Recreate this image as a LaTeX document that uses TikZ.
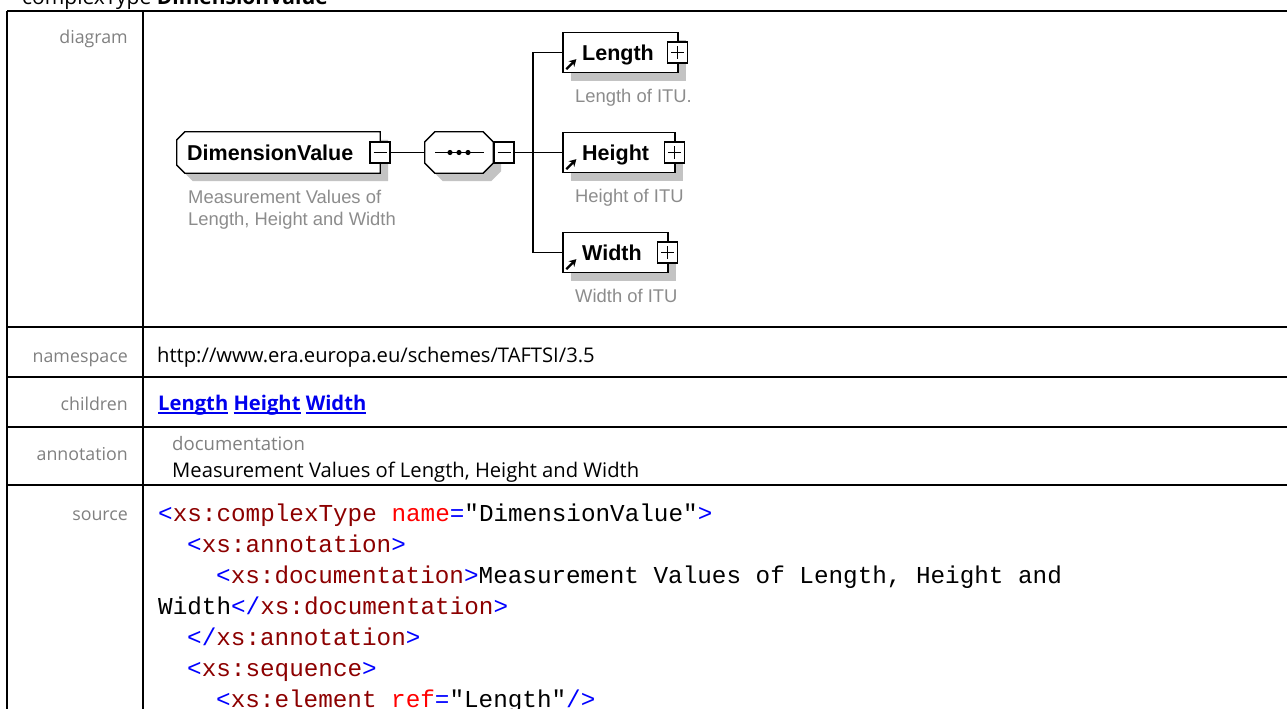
\documentclass[tikz,border=0pt]{standalone}
\usepackage{fontspec}
\setmainfont{Open Sans}
\setmonofont{Liberation Mono}
\newfontfamily\dgfont{Liberation Sans}
\usetikzlibrary{shadows,arrows.meta}
\definecolor{lblgray}{RGB}{128,128,128}
\definecolor{descgray}{RGB}{140,140,140}
\definecolor{xblue}{RGB}{0,0,255}
\definecolor{xelem}{RGB}{140,0,0}
\definecolor{xattr}{RGB}{255,0,0}
\definecolor{shgray}{RGB}{195,195,195}
\definecolor{linkblue}{RGB}{0,0,238}
\newcommand\XBl[1]{\textcolor{xblue}{#1}}
\newcommand\XEl[1]{\textcolor{xelem}{#1}}
\newcommand\XAt[1]{\textcolor{xattr}{#1}}
\newcommand\lnkword[1]{\setbox0\hbox{#1}\rlap{\rule[-3.5pt]{\wd0}{1.4pt}}\box0\relax}
% chamfered outline round a node: #1 node, #2 chamfer left, #3 chamfer right
\newcommand\chamfpath[3]{([xshift=#2]#1.north west) -- ([xshift=-#3]#1.north east) -- ([yshift=-#3]#1.north east)
  -- ([yshift=#3]#1.south east) -- ([xshift=-#3]#1.south east) -- ([xshift=#2]#1.south west)
  -- ([yshift=#2]#1.south west) -- ([yshift=-#2]#1.north west) -- cycle}
\tikzset{
  tline/.style={line width=1.3pt, black},
  rowlbl/.style={anchor=base east, inner sep=0pt, text=lblgray, font=\fontsize{17.8}{20}\selectfont},
  celltxt/.style={anchor=base west, inner sep=0pt, font=\fontsize{20.2}{24}\selectfont},
  code/.style={anchor=base west, inner sep=0pt, font=\ttfamily\fontsize{24.3}{28}\selectfont},
  conn/.style={line width=1.3pt, black},
  shapeline/.style={draw, line width=1.3pt, fill=white},
  shadowfill/.style={fill=shgray, draw=none, transform canvas={shift={(8pt,-8pt)}}},
  frame/.style={rectangle, draw=none, inner sep=0pt},
  sh/.style={drop shadow={shadow xshift=8pt, shadow yshift=-8pt, fill=shgray, opacity=1}},
  elbox/.style={rectangle, draw, line width=1.3pt, fill=white, inner sep=0pt, minimum height=40pt, sh},
  ctrl/.style={rectangle, draw, line width=1.3pt, fill=white, inner sep=0pt, minimum width=20pt, minimum height=21pt},
  minusbox/.style={ctrl, path picture={\draw[line width=1.3pt] ([xshift=-6.5pt]path picture bounding box.center) -- ([xshift=6.5pt]path picture bounding box.center);}},
  plusbox/.style={ctrl, path picture={\draw[line width=1.3pt] ([xshift=-6.5pt]path picture bounding box.center) -- ([xshift=6.5pt]path picture bounding box.center)
     ([yshift=-6.5pt]path picture bounding box.center) -- ([yshift=6.5pt]path picture bounding box.center);}},
  ename/.style={anchor=base west, inner sep=0pt, font=\dgfont\bfseries\fontsize{21.5}{24}\selectfont},
  edesc/.style={anchor=base west, inner sep=0pt, text=descgray, align=left, font=\dgfont\fontsize{18.4}{22}\selectfont},
  refarrow/.style={line width=2.2pt, -{Stealth[length=7pt,width=8pt]}},
}
\begin{document}
\begin{tikzpicture}[x=1pt,y=-1pt]
\useasboundingbox (0,0) rectangle (1287,709);
\clip (0,0) rectangle (1287,709);
% title
\node[anchor=base west, inner sep=0pt, font=\fontsize{21}{24}\selectfont] (title) at (22,5) {complexType \textbf{DimensionValue}};
% table grid
\draw[tline] (7,11) -- (1287,11);
\draw[tline] (7,327) -- (1287,327);
\draw[tline] (7,377) -- (1287,377);
\draw[tline] (7,427) -- (1287,427);
\draw[tline] (7,485) -- (1287,485);
\draw[tline] (7,11) -- (7,709);
\draw[tline] (143,11) -- (143,709);
% row labels
\node[rowlbl] (l1) at (128,44) {diagram};
\node[rowlbl] (l2) at (128,362) {namespace};
\node[rowlbl] (l3) at (128,410) {children};
\node[rowlbl] (l4) at (128,460) {annotation};
\node[rowlbl] (l5) at (128,520) {source};
% cells
\node[celltxt] (ns) at (157,362) {http://www.era.europa.eu/schemes/TAFTSI/3.5};
\node[celltxt, text=linkblue, font=\bfseries\fontsize{20.2}{24}\selectfont] (ch) at (158,410) {\lnkword{Length} \lnkword{Height} \lnkword{Width}};
\node[celltxt, text=lblgray, font=\fontsize{18.6}{22}\selectfont] (doc) at (172,450) {documentation};
\node[celltxt] (doct) at (172,477) {Measurement Values of Length, Height and Width};
% source code
\node[code] (c1) at (158,521) {\XBl{<}\XEl{xs:complexType} \XAt{name}\XBl{=}"DimensionValue"\XBl{>}};
\node[code] (c2) at (187,552) {\XBl{<}\XEl{xs:annotation}\XBl{>}};
\node[code] (c3) at (216,583) {\XBl{<}\XEl{xs:documentation}\XBl{>}Measurement Values of Length, Height and};
\node[code] (c4) at (158,614) {Width\XBl{</}\XEl{xs:documentation}\XBl{>}};
\node[code] (c5) at (187,645) {\XBl{</}\XEl{xs:annotation}\XBl{>}};
\node[code] (c6) at (187,676) {\XBl{<}\XEl{xs:sequence}\XBl{>}};
\node[code] (c7) at (216,707) {\XBl{<}\XEl{xs:element} \XAt{ref}\XBl{=}"Length"\XBl{/>}};
% diagram: complex type (chamfered on the left)
\node[frame, minimum width=203pt, minimum height=41pt] (dv) at (278.5,152.5) {};
\fill[shadowfill] \chamfpath{dv}{8pt}{0pt};
\path[shapeline] \chamfpath{dv}{8pt}{0pt};
\node[ename] (dvt) at (187,160) {DimensionValue};
\node[minusbox] (dvm) at (380,152.5) {};
\node[edesc] (dvd) at (188,225) {Measurement Values of\\Length, Height and Width};
% sequence (octagon)
\node[frame, minimum width=68pt, minimum height=41pt] (seq) at (459,152.5) {};
\fill[shadowfill] \chamfpath{seq}{10pt}{10pt};
\path[shapeline] \chamfpath{seq}{10pt}{10pt};
\draw[line width=1.3pt] ([xshift=-24pt]seq.center) -- ([xshift=25pt]seq.center);
\fill ([xshift=-9pt]seq.center) circle (2.6pt);
\fill (seq.center) circle (2.6pt);
\fill ([xshift=9pt]seq.center) circle (2.6pt);
\node[minusbox] (seqm) at (504,152.5) {};
% elements
\node[elbox, minimum width=115pt] (len) at (620.5,52.5) {};
\node[ename] (lent) at (582,60.5) {Length};
\node[plusbox] (lenp) at (677.5,52.5) {};
\node[edesc] (lend) at (575,102) {Length of ITU.};
\node[elbox, minimum width=112pt] (hgt) at (619,152.5) {};
\node[ename] (hgtt) at (582,160.5) {Height};
\node[plusbox] (hgtp) at (674.5,152.5) {};
\node[edesc] (hgtd) at (575,202) {Height of ITU};
\node[elbox, minimum width=105pt] (wid) at (615.5,252.5) {};
\node[ename] (widt) at (582,260.5) {Width};
\node[plusbox] (widp) at (667.5,252.5) {};
\node[edesc] (widd) at (575,302) {Width of ITU};
% reference arrows
\draw[refarrow] ([shift={(4,-4)}]len.south west) -- ([shift={(14,-14)}]len.south west);
\draw[refarrow] ([shift={(4,-4)}]hgt.south west) -- ([shift={(14,-14)}]hgt.south west);
\draw[refarrow] ([shift={(4,-4)}]wid.south west) -- ([shift={(14,-14)}]wid.south west);
% connectors
\draw[conn] (dvm.east) -- (seq.west);
\draw[conn] (seqm.east) -- (hgt.west);
\coordinate (bus) at (533,152.5);
\draw[conn] (len.west) -| (bus) |- (wid.west);
\end{tikzpicture}
\end{document}
